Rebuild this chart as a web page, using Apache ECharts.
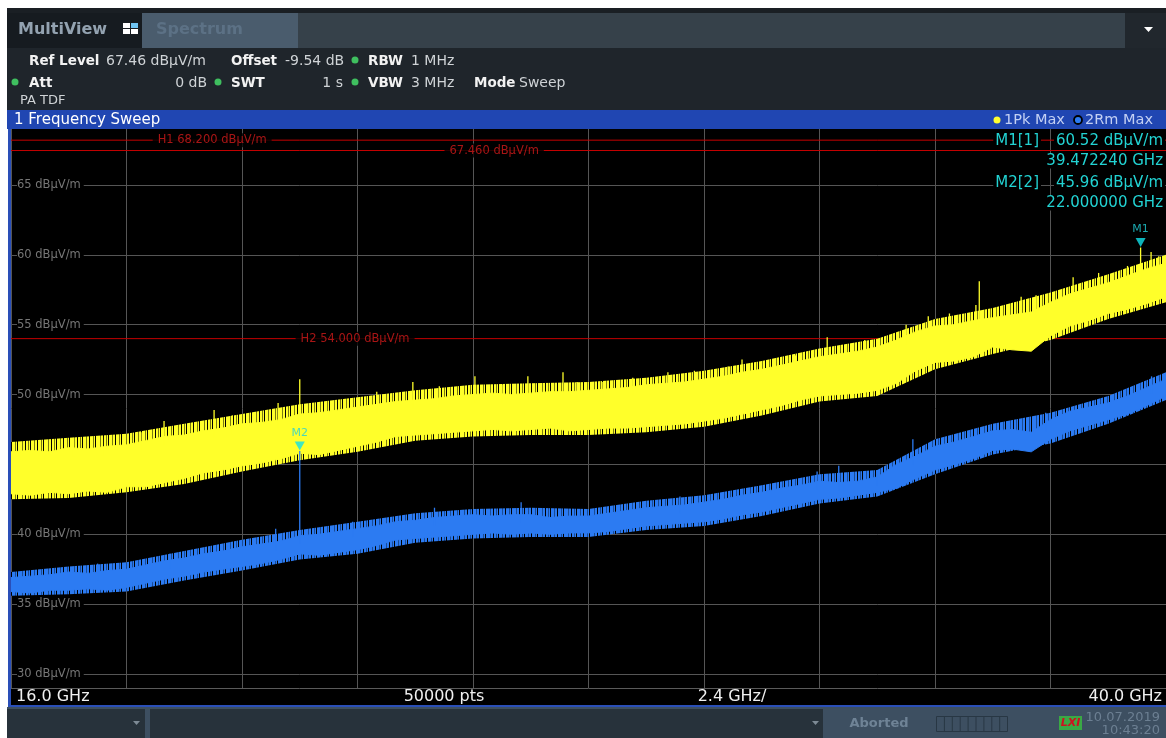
<!DOCTYPE html>
<html><head><meta charset="utf-8">
<script src="https://cdn.jsdelivr.net/npm/echarts@6/dist/echarts.min.js"></script>
<style>html,body{margin:0;padding:0;background:#fff;}#c{width:1166px;height:738px;}</style>
</head><body><div id="c"></div>
<script>
// ---------- data ----------
const freqs = [16.0,16.4,16.8,17.2,17.6,18.0,18.4,18.8,19.2,19.6,20.0,20.4,20.8,21.2,21.6,22.0,22.4,22.8,23.2,23.6,24.0,24.4,24.8,25.2,25.6,26.0,26.4,26.8,27.2,27.6,28.0,28.4,28.8,29.2,29.6,30.0,30.4,30.8,31.2,31.6,32.0,32.4,32.8,33.2,33.6,34.0,34.4,34.8,35.2,35.6,36.0,36.4,36.8,37.2,37.6,38.0,38.4,38.8,39.2,39.6,40.0];
// Trace 1 (Pk Max) dense upper / lower envelope, dBµV/m
const pkTop = [45.9,46.0,45.9,46.2,46.1,46.3,46.4,46.7,47.0,47.1,47.4,47.6,47.9,48.0,48.2,48.6,48.7,48.9,49.1,49.3,49.5,49.6,49.7,49.9,50.0,50.1,50.0,50.1,50.2,50.2,50.3,50.4,50.5,50.7,50.8,50.9,51.1,51.3,51.6,51.8,52.1,52.4,52.7,52.9,53.1,53.4,53.9,54.5,54.9,55.0,55.3,55.5,55.7,55.9,56.6,57.2,57.6,58.0,58.5,59.0,59.4];
const pkBottom = [42.9,42.8,43.0,42.9,43.1,43.0,43.4,43.4,43.7,44.0,44.4,44.6,44.9,45.1,45.4,45.8,45.7,46.0,46.3,46.6,47.0,47.1,47.2,47.3,47.4,47.5,47.4,47.5,47.6,47.4,47.5,47.6,47.6,47.7,47.8,47.9,48.1,48.3,48.6,48.9,49.2,49.6,49.9,50.0,50.1,50.3,50.8,51.7,52.3,52.4,52.7,53.4,53.2,53.1,54.2,54.9,55.3,55.8,56.1,56.5,57.0];
// Trace 2 (Rm Max) dense upper / lower envelope
const rmTop = [36.9,37.0,37.1,37.3,37.2,37.4,37.5,37.8,38.1,38.3,38.6,38.8,39.1,39.3,39.5,39.9,40.0,40.2,40.4,40.6,40.9,41.0,41.2,41.3,41.4,41.3,41.4,41.4,41.2,41.3,41.3,41.5,41.7,41.9,42.0,42.1,42.3,42.5,42.8,43.0,43.3,43.5,43.8,43.7,43.8,44.1,45.0,45.6,46.3,46.6,47.0,47.4,47.5,47.3,48.2,48.8,49.1,49.4,49.9,50.5,51.1];
const rmBottom = [35.9,35.8,36.0,36.0,36.1,36.0,36.2,36.5,36.8,37.0,37.3,37.5,37.7,37.9,38.2,38.6,38.5,38.7,38.9,39.2,39.6,39.7,39.8,39.9,40.0,40.1,40.0,40.1,40.0,40.1,40.1,40.2,40.4,40.6,40.7,40.8,40.9,41.1,41.4,41.6,41.9,42.2,42.5,42.6,42.8,43.0,43.3,44.0,44.6,45.0,45.4,46.0,46.1,45.9,46.8,47.4,47.8,48.2,48.6,49.2,49.9];
// outer (noise-grass) envelopes on a coarser grid
const freqsCoarse = [16.0,17.2,18.4,19.6,20.8,22.0,23.2,24.4,25.6,26.8,28.0,29.2,30.4,31.6,32.8,34.0,35.2,36.4,37.6,38.8,40.0];
const pkOuterTop = [46.6,46.9,47.2,47.9,48.6,49.3,49.8,50.3,50.7,50.8,50.9,51.2,51.7,52.4,53.3,54.0,55.4,56.2,57.3,58.6,60.0];
const pkOuterBottom = [42.5,42.6,43.0,43.6,44.5,45.3,45.9,46.7,47.0,47.1,47.1,47.3,47.7,48.5,49.5,49.9,51.8,52.9,53.9,55.4,56.6];
const rmOuterTop = [37.3,37.7,38.0,38.8,39.6,40.3,40.9,41.5,41.8,41.9,41.8,42.4,42.8,43.5,44.3,44.6,46.8,47.9,48.7,49.9,51.6];
const rmOuterBottom = [35.6,35.7,35.9,36.7,37.4,38.2,38.6,39.4,39.7,39.8,39.8,40.3,40.6,41.3,42.2,42.7,44.3,45.7,46.5,47.9,49.6];
// isolated peaks standing above the traces [GHz, dBµV/m]
const pkSpikes = [[16.19,46.2],[16.7,46.7],[17.3,46.9],[17.9,47.0],[18.7,47.3],[19.18,48.1],[20.22,48.9],[20.6,48.5],[21.2,48.7],[21.55,49.4],[22.0,51.1],[23.6,50.2],[24.35,50.9],[24.9,50.6],[25.64,51.3],[26.2,50.7],[26.74,51.3],[27.47,51.6],[27.76,50.9],[28.3,50.9],[28.92,51.2],[29.65,51.6],[30.2,51.7],[30.9,52.0],[31.19,52.5],[32.3,52.8],[32.96,54.1],[33.74,53.9],[34.6,55.0],[35.06,55.6],[35.5,55.8],[36.05,56.4],[36.12,58.1],[36.99,57.0],[37.3,57.1],[38.07,58.4],[38.6,58.7],[39.2,59.2],[39.47224,60.52],[39.69,60.2],[39.85,59.9]];
const rmSpikes = [[17.8,37.9],[19.3,38.6],[21.5,40.4],[22.0,45.96],[23.1,40.9],[24.8,41.9],[26.6,42.3],[29.9,42.7],[32.75,44.5],[33.2,44.9],[34.0,44.5],[34.74,46.8],[37.5,48.7],[39.7,51.3]];
// markers
const markerNames = ['M1','M2'];
const markerFreqs = [39.472240, 22.000000];
const markerLevels = [60.52, 45.96];
// horizontal lines
const hLineNames = ['H1 68.200 dBµV/m','67.460 dBµV/m','H2 54.000 dBµV/m'];
const hLineLevels = [68.2, 67.46, 54.0];
// axis ticks
const yTicks = [30,35,40,45,50,55,60,65];
const xMin = 16.0, xMax = 40.0, xStep = 2.4, yMin = 29, yMax = 69;

// ---------- helpers ----------
const FONT = '"DejaVu Sans", sans-serif';
const YEL = '#ffff2a', BLU = '#2c7bf2';
// striped fill texture imitating the noise "grass" at the trace edges
function grassPattern(c1, c2, c3){
  const cols = 'AAbAcAAAbAAcAAAbAcAAAAbAAc';
  const cv = document.createElement('canvas'); cv.width = cols.length; cv.height = 4;
  const ctx = cv.getContext('2d');
  for (let i=0;i<cols.length;i++){
    ctx.fillStyle = cols[i]==='A'?c1:(cols[i]==='b'?c2:c3);
    ctx.fillRect(i,0,1,4);
  }
  return {image:cv, repeat:'repeat'};
}
function interp(arr, f){
  for (let i=0;i<freqs.length-1;i++){
    if (f<=freqs[i+1]) { const t=(f-freqs[i])/(freqs[i+1]-freqs[i]); return arr[i]+(arr[i+1]-arr[i])*t; }
  }
  return arr[arr.length-1];
}
function band(name, xs, top, bottom, fill, z, stroke){
  return {
    type:'custom', name, z, clip:true, silent:true,
    data: xs.map((f,i)=>[f, top[i], bottom[i]]),
    encode:{x:0, y:[1,2]},
    renderItem(params, api){
      if (params.dataIndex !== 0) return null;
      const pts=[];
      for (let i=0;i<xs.length;i++) pts.push(api.coord([xs[i], top[i]]));
      for (let i=xs.length-1;i>=0;i--) pts.push(api.coord([xs[i], bottom[i]]));
      return {type:'polygon', shape:{points:pts}, style:{fill:fill, stroke:stroke||null, lineWidth:1}};
    }
  };
}
function spikes(name, data, top, color, z){
  return {
    type:'custom', name, z, clip:true, silent:true,
    data: data,
    encode:{x:0, y:1},
    renderItem(params, api){
      const f=api.value(0), v=api.value(1);
      const base = interp(top, f) - 0.6;
      const p1=api.coord([f,v]), p2=api.coord([f,base]);
      return {type:'line', shape:{x1:p1[0],y1:p1[1],x2:p2[0],y2:p2[1]}, style:{stroke:color, lineWidth:1.3}};
    }
  };
}
function T(x,y,text,fill,size,weight,align,extra){
  return {type:'text', z:100, style:Object.assign({x, y, text, fill,
    font:(weight||'normal')+' '+size+'px '+FONT, align:align||'left', verticalAlign:'middle'}, extra||{})};
}
function R(x,y,w,h,fill,z,stroke){
  return {type:'rect', z:(z===undefined?-10:z), silent:true, shape:{x,y,width:w,height:h}, style:{fill, stroke:stroke||null, lineWidth:1}};
}
function C(x,y,r,fill,stroke,lw){
  return {type:'circle', z:100, shape:{cx:x,cy:y,r}, style:{fill, stroke:stroke||null, lineWidth:lw||0}};
}

// ---------- graphic chrome ----------
const G = [];
G.push(R(7,8,1159,6,'#1a1f24'));
G.push(R(7,13,1159,35,'#36414a'));
G.push(R(7,13,135,35,'#161b20'));
G.push(R(142,13,156,35,'#4a5c6d'));
G.push(R(1125,13,41,35,'#21272d'));
G.push(R(7,48,1159,62,'#1f252b'));
G.push(R(7,110,1159,19,'#2046b2'));
G.push(R(8,129,1158,577,'#000000',-20));
G.push(R(8,129,3,578,'#2a4fb8',5));
G.push(R(8,705,1158,2,'#2a4fb8',5));
G.push(R(7,707,1159,31,'#3d4f61'));
G.push(R(7,709,138,29,'#27323b'));
G.push(R(150,709,673,29,'#27323b'));
// tabs
G.push(T(18,30,'MultiView','#93a2b0',16,'bold'));
G.push(R(123,23,7,5,'#ffffff',100)); G.push(R(131,23,7,5,'#6fc4f2',100));
G.push(R(123,29,7,5,'#ffffff',100)); G.push(R(131,29,7,5,'#ffffff',100));
G.push(T(156,30,'Spectrum','#5c7185',16,'bold'));
G.push({type:'polygon', z:100, shape:{points:[[1144,27],[1153,27],[1148.5,32]]}, style:{fill:'#ffffff'}});
// info lines
const lab='#f2f2f2', val='#cfd3d6', dot='#3fbf5f';
G.push(T(29,61,'Ref Level',lab,13.5,'bold')); G.push(T(106,61,'67.46 dBµV/m',val,14));
G.push(T(231,61,'Offset',lab,13.5,'bold')); G.push(T(285,61,'-9.54 dB',val,14));
G.push(C(355,60,3.5,dot)); G.push(T(368,61,'RBW',lab,13.5,'bold')); G.push(T(411,61,'1 MHz',val,14));
G.push(C(15,82,3.5,dot)); G.push(T(29,83,'Att',lab,13.5,'bold')); G.push(T(207,83,'0 dB',val,14,'normal','right'));
G.push(C(218,82,3.5,dot)); G.push(T(231,83,'SWT',lab,13.5,'bold')); G.push(T(343,83,'1 s',val,14,'normal','right'));
G.push(C(355,82,3.5,dot)); G.push(T(368,83,'VBW',lab,13.5,'bold')); G.push(T(411,83,'3 MHz',val,14));
G.push(T(474,83,'Mode',lab,13.5,'bold')); G.push(T(519,83,'Sweep',val,14));
G.push(T(20,101,'PA TDF',val,13));
// blue title bar
G.push(T(14,120,'1 Frequency Sweep','#ffffff',15));
G.push(C(997,120,3.5,'#ffff30'));
G.push(T(1004,120,'1Pk Max','#c3d0f4',14.5));
G.push(C(1078,120,4,BLU,'#000000',1.8));
G.push(T(1085,120,'2Rm Max','#c3d0f4',14.5));
// marker info
const cy='#22d3d3', bgk={backgroundColor:'#000', padding:[0,2]};
G.push(T(1041,141,'M1[1]',cy,15,'normal','right',bgk));
G.push(T(1165,141,'60.52 dBµV/m',cy,15,'normal','right',bgk));
G.push(T(1165,161,'39.472240 GHz',cy,15,'normal','right',bgk));
G.push(T(1041,183,'M2[2]',cy,15,'normal','right',bgk));
G.push(T(1165,183,'45.96 dBµV/m',cy,15,'normal','right',bgk));
G.push(T(1165,203,'22.000000 GHz',cy,15,'normal','right',bgk));
// x labels row
G.push(T(16,697,xMin.toFixed(1)+' GHz','#f0f0f0',16));
G.push(T(444,697,'50000 pts','#f0f0f0',16,'normal','center'));
G.push(T(732,697,xStep.toFixed(1)+' GHz/','#f0f0f0',16,'normal','center'));
G.push(T(1162,697,xMax.toFixed(1)+' GHz','#f0f0f0',16,'normal','right'));
// status bar
G.push({type:'polygon', z:100, shape:{points:[[133,721],[140,721],[136.5,725]]}, style:{fill:'#7d8a95'}});
G.push({type:'polygon', z:100, shape:{points:[[812,721],[819,721],[815.5,725]]}, style:{fill:'#7d8a95'}});
G.push(T(879,724,'Aborted','#6f8396',13,'bold','center'));
G.push(R(936.5,716.5,71,15,null,50,'#283744'));
for (let k=1;k<9;k++) G.push({type:'line', z:50, shape:{x1:936.5+k*7.9,y1:717,x2:936.5+k*7.9,y2:731}, style:{stroke:'#283744', lineWidth:1}});
G.push(R(1059,716,23,14,'#3aa845',50));
G.push(T(1070.5,723,'LXI','#d01020',11,'italic bold','center'));
G.push(T(1160,718,'10.07.2019','#6c7f92',13,'normal','right'));
G.push(T(1160,731,'10:43:20','#6c7f92',13,'normal','right'));

// ---------- series ----------
const series = [];
series.push(band('1Pk fringe', freqsCoarse, pkOuterTop, pkOuterBottom, grassPattern(YEL,'#7a7a10','#000000'), 3));
series.push(band('1Pk Max', freqs, pkTop, pkBottom, YEL, 3, YEL));
series.push(spikes('1Pk spikes', pkSpikes, pkTop, YEL, 3));
series.push(band('2Rm fringe', freqsCoarse, rmOuterTop, rmOuterBottom, grassPattern(BLU,'#1a4c96','#000000'), 4));
series.push(band('2Rm Max', freqs, rmTop, rmBottom, BLU, 4, BLU));
series.push(spikes('2Rm spikes', rmSpikes, rmTop, BLU, 4));
// horizontal limit / reference lines
const hLabelFreq = [20.18, 26.04, 23.15];
hLineLevels.forEach((lv, i)=>{
  series.push({type:'line', z:2, silent:true, symbol:'none', data:[[xMin,lv],[xMax,lv]], lineStyle:{color:'#c40000', width:1}});
  series.push({type:'scatter', z:2, silent:true, symbolSize:0, data:[[hLabelFreq[i], lv]],
    label:{show:true, position:'inside', formatter:hLineNames[i], color:'#d21a1a', fontSize:11.5, fontFamily:FONT, backgroundColor:'#000', padding:[1,5]}});
});
// markers
series.push({type:'scatter', z:10, silent:true, symbol:'triangle', symbolRotate:180, symbolSize:[10,9], symbolOffset:[0,-5],
  itemStyle:{color:'#10e0e8'},
  data: markerNames.map((n,i)=>({name:n, value:[markerFreqs[i], markerLevels[i]]})),
  label:{show:true, position:'top', distance:3, formatter:'{b}', color:'#22d0d8', fontSize:11, fontFamily:FONT}});

const chart = echarts.init(document.getElementById('c'), null, {renderer:'canvas'});
chart.setOption({
  animation:false,
  backgroundColor:'transparent',
  graphic: G,
  grid:{left:11, right:0, top:129, bottom:50, containLabel:false},
  xAxis:{type:'value', min:xMin, max:xMax, interval:xStep,
    axisLine:{show:true, lineStyle:{color:'#5a5a5a'}}, axisTick:{show:false}, axisLabel:{show:false},
    splitLine:{show:true, lineStyle:{color:'#555555', width:1}}},
  yAxis:{type:'value', min:yMin, max:yMax,
    axisLine:{show:false},
    axisTick:{show:false, customValues:yTicks},
    axisLabel:{show:true, inside:true, customValues:yTicks, margin:6, formatter:v=>v+' dBµV/m',
      color:'#767676', fontSize:11.5, fontFamily:FONT, backgroundColor:'#000', padding:[0,3,0,0]},
    splitLine:{show:true, lineStyle:{color:'#555555', width:1}}},
  series
});
</script></body></html>
